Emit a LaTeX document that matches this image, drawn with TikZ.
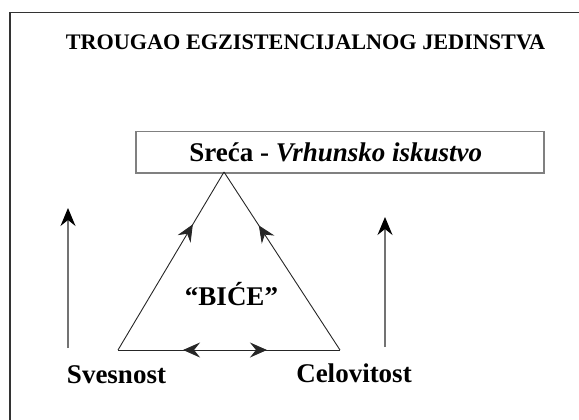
\documentclass[tikz,border=0pt]{standalone}
\usepackage{fontspec}
\setmainfont{Liberation Serif}
\usetikzlibrary{arrows.meta,decorations.markings}
\tikzset{barb/.tip={Stealth[length=17pt,width=15pt,inset=6pt]}}

\begin{document}
\begin{tikzpicture}[x=1pt,y=-1pt,
  side/.style={draw=black!85, line width=0.9pt},
  rise/.style={draw=black!55, line width=1.2pt, -{Stealth[length=18pt,width=15pt,inset=6pt,black]}},
  word/.style={font=\fontsize{27}{30}\selectfont\bfseries, anchor=base, inner sep=0pt}]
\useasboundingbox (0,0) rectangle (579,420);

% frame, cut off at the right and bottom
\draw[black!80, line width=1.5pt] (10,420) -- (10,12.5) -- (579,12.5);

\node[font=\fontsize{22.2}{26}\selectfont\bfseries, anchor=base, inner sep=0pt] (title) at (305.5,50) {TROUGAO EGZISTENCIJALNOG JEDINSTVA};

\node[draw=black!50, line width=1.5pt, minimum width=408pt, minimum height=41pt, anchor=north west, inner sep=0pt,
  font=\fontsize{27}{30}\selectfont\bfseries] (sreca) at (135,131) {Sreća - \textit{Vrhunsko iskustvo}\hspace*{8pt}};

% triangle
\coordinate (top) at (224,172);
\coordinate (sv) at (118,350);
\coordinate (ce) at (340,350);
\draw[side, postaction={decorate}, decoration={markings, mark=at position 0.706 with {\arrow{barb}}}] (sv) -- (top);
\draw[side, postaction={decorate}, decoration={markings, mark=at position 0.70 with {\arrow{barb}}}] (ce) -- (top);
\draw[side, postaction={decorate}, decoration={markings,
  mark=at position 0.293 with {\arrowreversed{barb}},
  mark=at position 0.671 with {\arrow{barb}}}] (sv) -- (ce);

\node[word] (bice) at (231.5,305) {“BIĆE”};

% rising arrows
\coordinate (svlow) at (68,348);
\coordinate (svhigh) at (68,208);
\coordinate (celow) at (385,347);
\coordinate (cehigh) at (385,217);
\draw[rise] (svlow) -- (svhigh);
\draw[rise] (celow) -- (cehigh);

\node[word] (svesnost) at (116.5,383) {Svesnost};
\node[word] (celovitost) at (354,382) {Celovitost};
\end{tikzpicture}
\end{document}
